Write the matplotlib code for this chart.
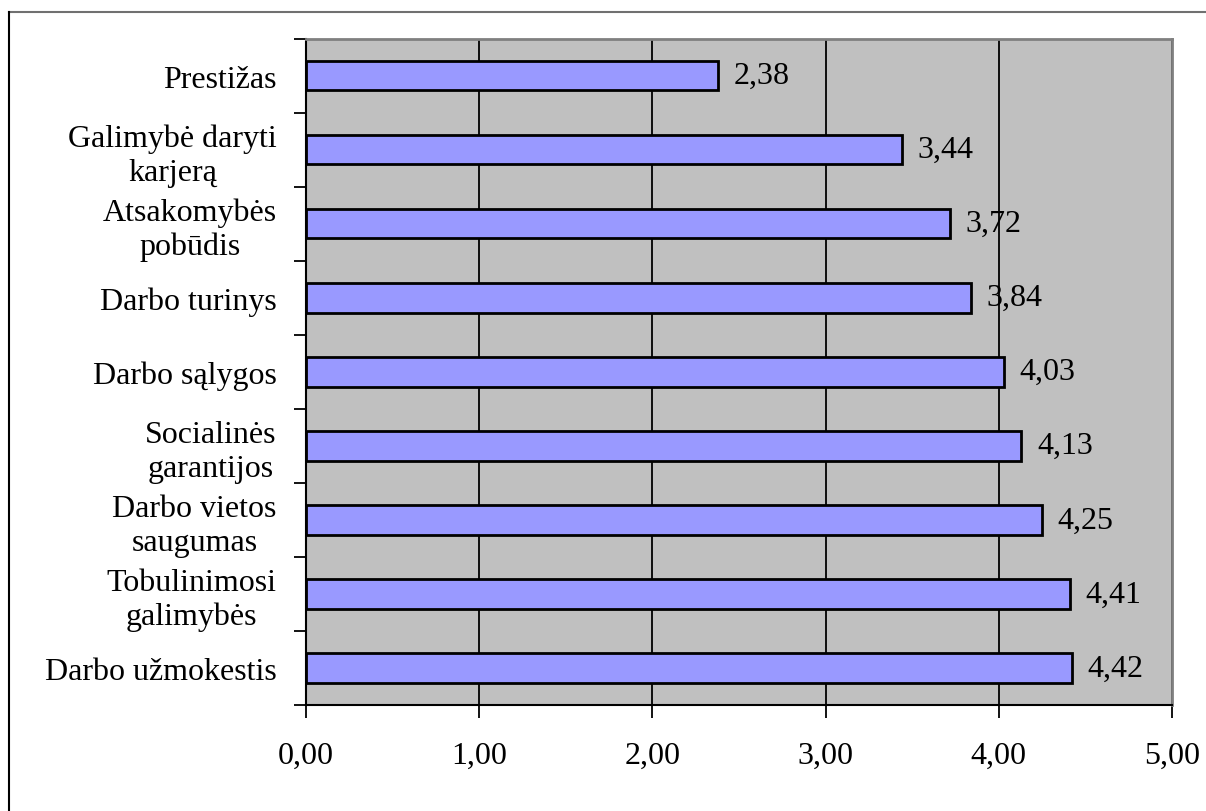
import matplotlib
matplotlib.use("Agg")
import matplotlib.pyplot as plt
from matplotlib.lines import Line2D

plt.rcParams['font.family'] = ['Liberation Serif', 'DejaVu Serif']

# factors, top to bottom
labels = [
    "Prestižas",
    "Galimybė daryti\nkarjerą",
    "Atsakomybės\npobūdis",
    "Darbo turinys",
    "Darbo sąlygos",
    "Socialinės\ngarantijos",
    "Darbo vietos\nsaugumas",
    "Tobulinimosi\ngalimybės",
    "Darbo užmokestis",
]
values = [2.38, 3.44, 3.72, 3.84, 4.03, 4.13, 4.25, 4.41, 4.42]
x_ticks = [0, 1, 2, 3, 4, 5]

FS = 23

fig = plt.figure(figsize=(12.06, 8.12), dpi=100)
ax = fig.add_axes([306 / 1206, 1 - 706 / 812, (1172 - 306) / 1206, (706 - 39.5) / 812])
ax.set_facecolor('#C0C0C0')

pos = list(range(len(labels)))
ax.barh(pos, values, height=0.4, color='#9999FF', edgecolor='black', linewidth=2, zorder=3)

for p, v in zip(pos, values):
    ax.text(v + 0.09, p, f"{v:.2f}".replace('.', ','), va='center', ha='left',
            fontsize=FS, zorder=4)

ax.set_xlim(0, 5)
ax.set_ylim(len(labels) - 0.5, -0.5)
ax.set_xticks(x_ticks)
ax.set_xticklabels([f"{t:.2f}".replace('.', ',') for t in x_ticks], fontsize=FS)
ax.xaxis.grid(True, color='black', linewidth=1.3, zorder=1)
ax.set_axisbelow(True)

ax.set_yticks(pos)
ax.set_yticklabels(labels, fontsize=FS, multialignment='center', linespacing=1.2)
ax.set_yticks([p - 0.5 for p in pos] + [len(labels) - 0.5], minor=True)
ax.tick_params(axis='y', which='major', length=0, pad=21)
ax.tick_params(axis='y', which='minor', length=9, width=1.3, direction='out')
ax.tick_params(axis='x', length=9, width=1.3, direction='out', pad=17)

for side in ('left', 'bottom'):
    ax.spines[side].set_color('black')
    ax.spines[side].set_linewidth(1.5)
for side in ('top', 'right'):
    ax.spines[side].set_color('#808080')
    ax.spines[side].set_linewidth(2)

# chart area border (only the top and left edges fall inside the image)
bx, by = 8.5 / 1206, 1 - 13 / 812
fig.add_artist(Line2D([bx, 1], [by, by], transform=fig.transFigure,
                      color='#707070', linewidth=1.5))
fig.add_artist(Line2D([bx, bx], [0, by], transform=fig.transFigure,
                      color='black', linewidth=1.5))

fig.savefig('out.png', dpi=100)
